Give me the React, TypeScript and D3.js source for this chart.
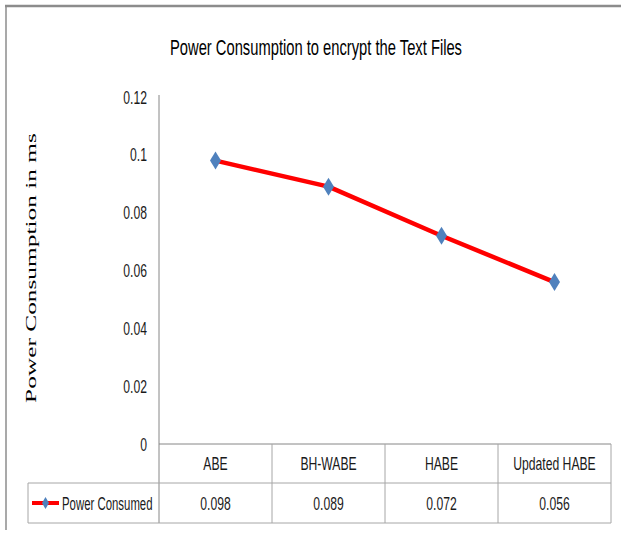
import React, { useLayoutEffect, useRef, useState } from "react";
import * as d3 from "d3";

const categories = ["ABE", "BH-WABE", "HABE", "Updated HABE"];
const values = [0.098, 0.089, 0.072, 0.056];
const valueLabels = ["0.098", "0.089", "0.072", "0.056"];
const yTicks = [0, 0.02, 0.04, 0.06, 0.08, 0.1, 0.12];
const seriesName = "Power Consumed";
const title = "Power Consumption to encrypt the Text Files";
const yTitle = "Power Consumption in ms";

const W = 621;
const H = 533;
const plotLeft = 159;
const plotRight = 611;
const plotTop = 97;
const plotBottom = 444;
const row1Bottom = 483;
const row2Bottom = 523;
const tableLeft = 28;

const SX = 0.64;
const FONT = "'Liberation Sans', Arial, sans-serif";

function T({ x, y, anchor = "middle", size = 19, children, sx = SX }: any) {
  return (
    <g transform={`translate(${x},${y}) scale(${sx},1)`}>
      <text
        x={0}
        y={0}
        textAnchor={anchor}
        dominantBaseline="central"
        fontFamily={FONT}
        fontSize={size}
        fill="#1a1a1a"
      >
        {children}
      </text>
    </g>
  );
}

// Text scaled along its own direction to fill a target length
function FitText({ x, y, rotate = 0, target, size, family, children }: any) {
  const ref = useRef<SVGTextElement>(null);
  const [s, setS] = useState(1);
  useLayoutEffect(() => {
    if (ref.current) {
      const w = ref.current.getComputedTextLength();
      if (w > 0) setS(target / w);
    }
  }, [target, children]);
  return (
    <g transform={`translate(${x},${y}) rotate(${rotate}) scale(${s},1)`}>
      <text
        ref={ref}
        x={0}
        y={0}
        textAnchor="middle"
        dominantBaseline="central"
        fontFamily={family}
        fontSize={size}
        fill="#000"
      >
        {children}
      </text>
    </g>
  );
}

export default function App() {
  const x = d3.scaleBand<string>().domain(categories).range([plotLeft, plotRight]).padding(0);
  const y = d3.scaleLinear().domain([0, 0.12]).range([plotBottom, plotTop]);
  const cx = (c: string) => (x(c) as number) + x.bandwidth() / 2;

  const line = d3
    .line<number>()
    .x((_, i) => cx(categories[i]))
    .y((d) => y(d));

  const diamond = (px: number, py: number) =>
    `M${px},${py - 9}L${px + 5.5},${py}L${px},${py + 9}L${px - 5.5},${py}Z`;

  const gridColor = "#A6A6A6";
  const legendY = (row1Bottom + row2Bottom) / 2;

  return (
    <svg
      width={W}
      height={H}
      style={{ position: "absolute", left: 0, top: 0, background: "#fff" }}
    >
      {/* frame */}
      <line x1={5} x2={W} y1={6} y2={6} stroke="#8C8C8C" strokeWidth={2.5} />
      <line x1={6} x2={6} y1={5} y2={530} stroke="#8C8C8C" strokeWidth={1.5} />

      {/* title */}
      <FitText x={316} y={47} target={292} size={22} family={FONT}>
        {title}
      </FitText>

      {/* y axis title */}
      <FitText
        x={31}
        y={268}
        rotate={-90}
        target={270}
        size={15.5}
        family="'Liberation Serif', 'Times New Roman', serif"
      >
        {yTitle}
      </FitText>

      {/* y tick labels */}
      {yTicks.map((t) => (
        <T key={t} x={147} y={y(t)} anchor="end">
          {String(t)}
        </T>
      ))}

      {/* axes */}
      <line x1={plotLeft} x2={plotLeft} y1={plotTop - 2} y2={row2Bottom} stroke="#868686" strokeWidth={1} />
      <line x1={plotLeft} x2={plotRight} y1={plotBottom} y2={plotBottom} stroke="#868686" strokeWidth={1} />

      {/* table lines */}
      <line x1={tableLeft} x2={plotRight} y1={row1Bottom} y2={row1Bottom} stroke={gridColor} strokeWidth={1} />
      <line x1={tableLeft} x2={plotRight} y1={row2Bottom} y2={row2Bottom} stroke={gridColor} strokeWidth={1} />
      <line x1={tableLeft} x2={tableLeft} y1={row1Bottom} y2={row2Bottom} stroke={gridColor} strokeWidth={1} />
      {categories.map((c) => (
        <line
          key={c}
          x1={(x(c) as number) + x.bandwidth()}
          x2={(x(c) as number) + x.bandwidth()}
          y1={plotBottom}
          y2={row2Bottom}
          stroke={gridColor}
          strokeWidth={1}
        />
      ))}

      {/* category header + values */}
      {categories.map((c, i) => (
        <g key={c}>
          <T x={cx(c)} y={(plotBottom + row1Bottom) / 2}>
            {c}
          </T>
          <T x={cx(c)} y={legendY}>
            {valueLabels[i]}
          </T>
        </g>
      ))}

      {/* legend key */}
      <line x1={32} x2={59} y1={legendY} y2={legendY} stroke="#FF0000" strokeWidth={4} />
      <path d={`M45.5,${legendY - 6}L49,${legendY}L45.5,${legendY + 6}L42,${legendY}Z`} fill="#4F81BD" />
      <T x={62} y={legendY} anchor="start" sx={0.6}>
        {seriesName}
      </T>

      {/* series line */}
      <path d={line(values) as string} fill="none" stroke="#FF0000" strokeWidth={4.5} strokeLinejoin="round" />
      {values.map((v, i) => (
        <path key={i} d={diamond(cx(categories[i]), y(v))} fill="#4F81BD" />
      ))}
    </svg>
  );
}
